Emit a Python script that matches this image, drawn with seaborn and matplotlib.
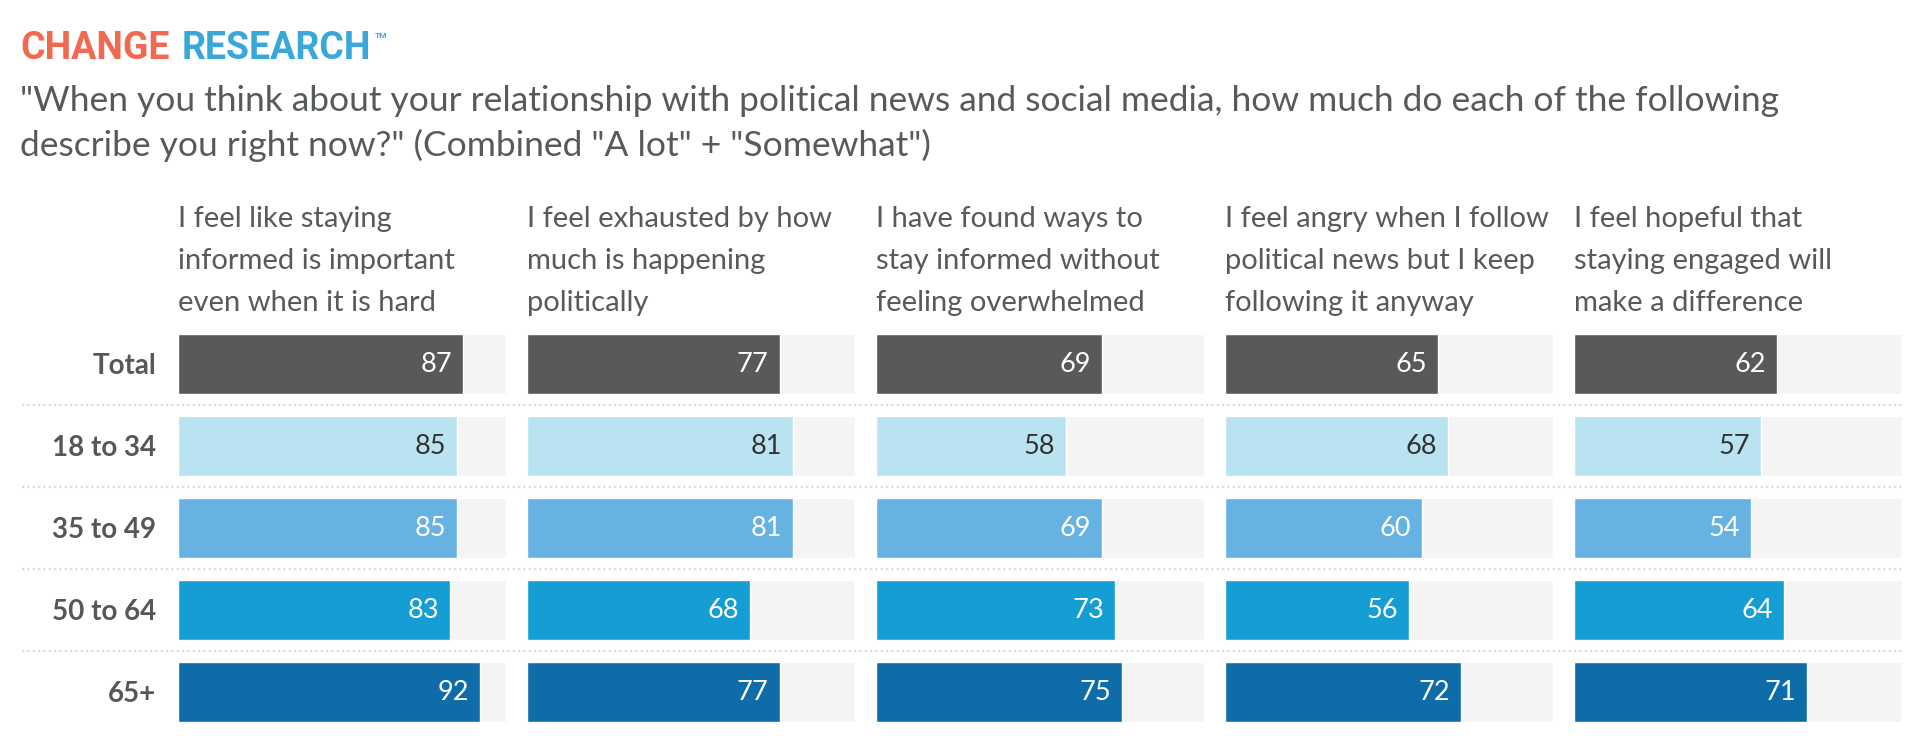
import matplotlib
matplotlib.use("Agg")
import matplotlib.pyplot as plt
import seaborn as sns
import pandas as pd

# ---------------- data ----------------
groups = ["Total", "18 to 34", "35 to 49", "50 to 64", "65+"]
statements = [
    "I feel like staying\ninformed is important\neven when it is hard",
    "I feel exhausted by how\nmuch is happening\npolitically",
    "I have found ways to\nstay informed without\nfeeling overwhelmed",
    "I feel angry when I follow\npolitical news but I keep\nfollowing it anyway",
    "I feel hopeful that\nstaying engaged will\nmake a difference",
]
total_vals = [87, 77, 69, 65, 62]
age_18_34 = [85, 81, 58, 68, 57]
age_35_49 = [85, 81, 69, 60, 54]
age_50_64 = [83, 68, 73, 56, 64]
age_65_plus = [92, 77, 75, 72, 71]
scale_max = 100

brand_left = "CHANGE"
brand_right = "RESEARCH"
title_lines = [
    "\"When you think about your relationship with political news and social media, how much do each of the following",
    "describe you right now?\" (Combined \"A lot\" + \"Somewhat\")",
]

bar_colors = ["#58595b", "#bae3f1", "#66b3e3", "#149ed4", "#0e6da8"]
label_colors = ["white", "#333333", "white", "white", "white"]

rows = [total_vals, age_18_34, age_35_49, age_50_64, age_65_plus]
records = []
for g, vals in zip(groups, rows):
    for s, v in zip(statements, vals):
        records.append({"group": g, "statement": s, "value": v, "full": scale_max})
df = pd.DataFrame(records)

# ---------------- figure ----------------
sns.set_theme(style="white")
FONT = ["Lato", "DejaVu Sans"]
plt.rcParams["font.family"] = FONT

W, H = 1924, 742
fig = plt.figure(figsize=(W / 100, H / 100), dpi=100)
fig.patch.set_facecolor("white")

TEXT_GRAY = "#565a5b"

# layout (pixels)
col_left0 = 178
col_pitch = 349
col_width = 328
row_pitch = 82
first_bar_top = 334
bar_h = 60
ax_top_px = first_bar_top + bar_h / 2 - row_pitch / 2
ax_h_px = row_pitch * len(groups)
ax_bottom = 1 - (ax_top_px + ax_h_px) / H
ax_height = ax_h_px / H

# dotted separators (overlay axes)
ov = fig.add_axes([0, ax_bottom, 1, ax_height], zorder=0)
ov.set_xlim(0, 1)
ov.set_ylim(len(groups) - 0.5, -0.5)
ov.axis("off")
for i in range(len(groups) - 1):
    ov.axhline(i + 0.5, xmin=22 / W, xmax=1902 / W, color="#cfe5c9",
               linewidth=1.6, linestyle=(0, (1.0, 1.4)))

for k, s in enumerate(statements):
    left = (col_left0 + k * col_pitch) / W
    ax = fig.add_axes([left, ax_bottom, col_width / W, ax_height], zorder=2)
    sub = df[df["statement"] == s]
    sns.barplot(data=sub, y="group", x="full", order=groups, color="#f4f4f4",
                saturation=1, width=bar_h / row_pitch, orient="h", ax=ax)
    sns.barplot(data=sub, y="group", x="value", order=groups, hue="group",
                hue_order=groups, palette=bar_colors, saturation=1,
                width=bar_h / row_pitch, orient="h", legend=False, ax=ax,
                dodge=False)
    ax.set_xlim(0, scale_max)
    ax.set_ylim(len(groups) - 0.5, -0.5)
    ax.set_xlabel("")
    ax.set_ylabel("")
    ax.set_xticks([])
    for sp in ax.spines.values():
        sp.set_visible(False)
    ax.set_facecolor("none")
    if k == 0:
        ax.tick_params(axis="y", length=0, pad=15.8)
        for t in ax.get_yticklabels():
            t.set_fontfamily(FONT)
            t.set_fontweight("bold")
            t.set_fontsize(20)
            t.set_color("#555759")
    else:
        ax.set_yticks([])
    for i, g in enumerate(groups):
        v = sub.loc[sub["group"] == g, "value"].iloc[0]
        ax.annotate(f"{v}", xy=(v, i), xytext=(-8, 0), textcoords="offset points",
                    ha="right", va="center", fontsize=19.5, color=label_colors[i],
                    family=FONT)
    # header text
    for j, line in enumerate(s.split("\n")):
        fig.text(left, 1 - (227 + 42 * j) / H, line, ha="left", va="baseline",
                 fontsize=21, color=TEXT_GRAY, family=FONT)

# brand
fig.text(20 / W, 1 - 59 / H, brand_left, ha="left", va="baseline", fontsize=27,
         fontweight="bold", color="#ef6a50", family=["Roboto", "DejaVu Sans"])
fig.text(182 / W, 1 - 59 / H, brand_right, ha="left", va="baseline", fontsize=27,
         fontweight="bold", color="#3aa7da", family=["Roboto", "DejaVu Sans"])
fig.text(375 / W, 1 - 38 / H, "TM", ha="left", va="baseline", fontsize=6,
         fontweight="bold", color="#3aa7da", family=["Roboto", "DejaVu Sans"])

# title
for j, line in enumerate(title_lines):
    fig.text(20 / W, 1 - (111 + 45 * j) / H, line, ha="left", va="baseline",
             fontsize=25.5, color=TEXT_GRAY, family=FONT)

fig.savefig("out.png", dpi=100, facecolor="white")
